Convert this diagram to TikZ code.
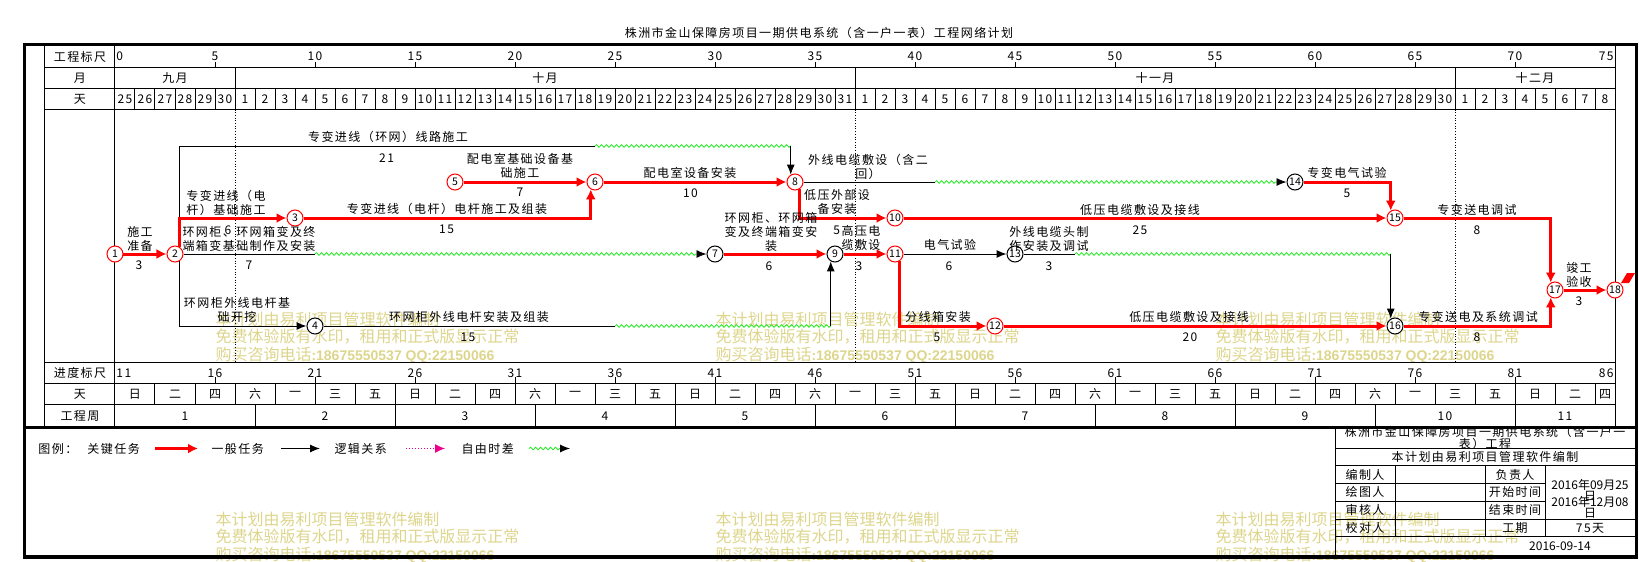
\documentclass[tikz,border=0pt]{standalone}
\usepackage{fontspec}
\setmainfont[LetterSpace=12]{Noto Sans CJK SC}
\newfontfamily\plainfont{Noto Sans CJK SC}
\newfontfamily\wmnum{Liberation Sans}
\usepackage{tikz}
\usetikzlibrary{arrows.meta}
\usetikzlibrary{calc}
\usetikzlibrary{decorations.pathmorphing}
\definecolor{slack}{RGB}{30,235,30}
\definecolor{wmark}{RGB}{221,213,140}
\tikzset{every picture/.style={line width=1pt}}
\tikzset{
  evt/.style={circle, draw, fill=white, minimum size=16pt, inner sep=0pt, font=\plainfont\fontsize{10.5}{10.5}\selectfont},
  critevt/.style={evt, draw=red},
  crit/.style={draw=red, line width=3pt, -{Latex[length=10pt,width=10pt]}},
  norm/.style={draw=black, -{Latex[length=10pt,width=8pt]}},
  slackline/.style={draw=slack, line width=0.8pt, decorate, decoration={snake, amplitude=1.3pt, segment length=5pt}},
  slackarrow/.style={slackline, decoration={post length=10pt}, -{Latex[length=10pt,width=8pt,color=black]}},
  task/.style={align=center, inner sep=0pt},
  lgtext/.style={anchor=west, inner sep=0pt},
  wmk/.style={anchor=north west, inner sep=0pt, align=left, text=wmark, font=\plainfont\fontsize{16}{17.5}\selectfont}
}
\begin{document}
\begin{tikzpicture}[x=20pt,y=-1pt,font=\fontsize{12}{14}\selectfont]
\useasboundingbox (-5.75,0) rectangle (76.2,562);
\foreach \wx/\wy in {5/311,30/311,55/311,5/511,30/511,55/511}
  \node (wm\wx-\wy) [wmk] at (\wx,\wy) {本计划由易利项目管理软件编制\\免费体验版有水印，租用和正式版显示正常\\购买咨询电话{\wmnum\bfseries\fontsize{14}{17.5}\selectfont:18675550537 QQ:22150066}};

\node (ttl) at (35.2,32.5) {株洲市金山保障房项目一期供电系统（含一户一表）工程网络计划};

\draw[line width=3.5pt] (-4.525,44.5) rectangle (76.075,557);
\draw[line width=3pt] (-4.525,427.5) -- (76.075,427.5);
\draw (-3.5,44.5) -- (-3.5,427.5);
\draw (0,44.5) -- (0,427.5);
\draw (75,44.5) -- (75,427.5);
\foreach \yy in {67.5,88.5,109.5,362.5,383.5,404.5}
  \draw (-3.5,\yy) -- (75,\yy);

\node (hs) at (-1.75,57) {工程标尺};
\node (hm) at (-1.75,78) {月};
\node (hd) at (-1.75,99) {天};
\node (fs) at (-1.75,373) {进度标尺};
\node (fd) at (-1.75,394) {天};
\node (fw) at (-1.75,416) {工程周};

\node (s0) [anchor=west, inner sep=1pt] at (0,56.5) {0};
\node (s75) [anchor=east, inner sep=1pt] at (75,56.5) {75};
\foreach \d in {5,10,...,70} {
  \draw (\d,62) -- (\d,67.5);
  \node (s\d) at (\d,56.5) {\d};
}

\node (m9) at (3,78) {九月};
\node (m10) at (21.5,78) {十月};
\node (m11) at (52,78) {十一月};
\node (m12) at (71,78) {十二月};
\foreach \d in {6,37,67}
  \draw (\d,67.5) -- (\d,88.5);

\foreach \i in {1,...,74}
  \draw (\i,88.5) -- (\i,109.5);
\foreach \dd in {25,...,30}
  \node (dS\dd) at (\dd-24.5,99) {\dd};
\foreach \dd in {1,...,31}
  \node (dO\dd) at (\dd+5.5,99) {\dd};
\foreach \dd in {1,...,30}
  \node (dN\dd) at (\dd+36.5,99) {\dd};
\foreach \dd in {1,...,8}
  \node (dD\dd) at (\dd+66.5,99) {\dd};

\foreach \d in {6,37,67}
  \draw[dotted, line width=0.7pt] (\d,109.5) -- (\d,362.5);

\node (p0) [anchor=west, inner sep=1pt] at (0,373) {11};
\node (p75) [anchor=east, inner sep=1pt] at (75,373) {86};
\foreach \d [evaluate=\d as \v using int(\d+11)] in {5,10,...,70} {
  \draw (\d,377) -- (\d,383.5);
  \node (p\d) at (\d,373) {\v};
}

\foreach \k in {1,...,37}
  \draw (2*\k,383.5) -- (2*\k,404.5);
\foreach \w [count=\k from 0] in {日,二,四,六,一,三,五,日,二,四,六,一,三,五,日,二,四,六,一,三,五,日,二,四,六,一,三,五,日,二,四,六,一,三,五,日,二,四}
  \node (wd\k) at ({min(2*\k+1,74.5)},394) {\w};

\foreach \k in {1,...,10}
  \draw (7*\k,404.5) -- (7*\k,427.5);
\foreach \k in {1,...,10}
  \node (wk\k) at (7*\k-3.5,416) {\k};
\node (wk11) at (72.5,416) {11};

\node (e1) [critevt] at (0,254) {1};
\node (e2) [critevt] at (3,254) {2};
\node (e3) [critevt] at (9,218) {3};
\node (e4) [evt] at (10,326) {4};
\node (e5) [critevt] at (17,182) {5};
\node (e6) [critevt] at (24,182) {6};
\node (e7) [evt] at (30,254) {7};
\node (e8) [critevt] at (34,182) {8};
\node (e9) [evt] at (36,254) {9};
\node (e10) [critevt] at (39,218) {10};
\node (e11) [critevt] at (39,254) {11};
\node (e12) [critevt] at (44,326) {12};
\node (e13) [evt] at (45,254) {13};
\node (e14) [evt] at (59,182) {14};
\node (e15) [critevt] at (64,218) {15};
\node (e16) [evt] at (64,326) {16};
\node (e17) [critevt] at (72,290) {17};
\node (e18) [critevt] at (75,290) {18};

\coordinate (f28) at (24,146);
\coordinate (g28) at (e8.120 |- f28);
\coordinate (f27) at (10,254);
\coordinate (f49) at (25,326);
\coordinate (g49) at (e9.-120 |- f49);
\coordinate (f814) at (41,182);
\coordinate (f1316) at (48,254);
\coordinate (g1316) at (e16.120 |- f1316);

\draw (e2.60) |- (f28);
\draw[slackline] (f28) -- (g28);
\draw[norm] (g28) -- (e8.120);
\draw[norm] (e2.-60) |- (e4);
\draw (e2) -- (f27);
\draw[slackarrow] (f27) -- (e7);
\draw (e4) -- (f49);
\draw[slackline] (f49) -- (g49);
\draw[norm] (g49) -- (e9.-120);
\draw (e8) -- (f814);
\draw[slackarrow] (f814) -- (e14);
\draw[norm] (e11) -- (e13);
\draw (e13) -- (f1316);
\draw[slackline] (f1316) -- (g1316);
\draw[norm] (g1316) -- (e16.120);
\draw[crit] (e1) -- (e2);
\draw[crit] (e2.60) |- (e3);
\draw[crit] (e3) -| (e6.-120);
\draw[crit] (e5) -- (e6);
\draw[crit] (e6) -- (e8);
\draw[crit] (e8.-60) |- (e10);
\draw[crit] (e7) -- (e9);
\draw[crit] (e9) -- (e11);
\draw[crit] (e10) -- (e15);
\draw[crit] (e11.-60) |- (e12);
\draw[crit] (e12) -- (e16);
\draw[crit] (e14) -| (e15.120);
\draw[crit] (e15) -| (e17.120);
\draw[crit] (e16) -| (e17.-120);
\draw[crit] (e17) -- (e18);
\fill[red] ($(e18)+(0.3,-7)$) -- ++(0.3,-10) -- ++(0.4,0) -- ++(-0.3,10) -- cycle;

\node (t12) [task] at (1.25,238.7) {施工\\准备};
\node (d12) at (1.2,265.7) {3};
\node (t23) [task] at (5.55,202.5) {专变进线（电\\杆）基础施工};
\node (d23) at (5.65,230) {6};
\node (t27) [task] at (6.7,238.7) {环网柜、环网箱变及终\\端箱变基础制作及安装};
\node (d27) at (6.7,265.7) {7};
\node (t24) [task] at (6.1,310) {环网柜外线电杆基\\础开挖};
\node (t28) at (13.65,137) {专变进线（环网）线路施工};
\node (d28) at (13.58,158) {21};
\node (t36) at (16.6,209.3) {专变进线（电杆）电杆施工及组装};
\node (d36) at (16.58,229.3) {15};
\node (t49) at (17.7,316.7) {环网柜外线电杆安装及组装};
\node (d49) at (17.65,337) {15};
\node (t56) [task] at (20.25,166.3) {配电室基础设备基\\础施工};
\node (d56) at (20.25,192.7) {7};
\node (t68) at (28.75,173.3) {配电室设备安装};
\node (d68) at (28.77,193.3) {10};
\node (t814) [task] at (37.65,166.7) {外线电缆敷设（含二\\回）};
\node (t810) [task] at (36.1,201.7) {低压外部设\\备安装};
\node (d810) at (36.08,230) {5};
\node (t79) [task] at (32.8,231.7) {环网柜、环网箱\\变及终端箱变安\\装};
\node (d79) at (32.7,266) {6};
\node (t911) [task] at (37.3,238) {高压电\\缆敷设};
\node (d911) at (37.2,266) {3};
\node (t1015) at (51.25,210) {低压电缆敷设及接线};
\node (d1015) at (51.25,230) {25};
\node (t1113) at (41.75,245) {电气试验};
\node (d1113) at (41.7,266) {6};
\node (t1112) at (41.15,316.7) {分线箱安装};
\node (d1112) at (41.1,337.7) {5};
\node (t1316) [task] at (46.7,238.5) {外线电缆头制\\作安装及调试};
\node (d1316) at (46.7,266) {3};
\node (t1216) at (53.7,316.7) {低压电缆敷设及接线};
\node (d1216) at (53.75,337.7) {20};
\node (t1415) at (61.6,173.3) {专变电气试验};
\node (d1415) at (61.6,193.3) {5};
\node (t1517) at (68.1,210) {专变送电调试};
\node (d1517) at (68.1,230) {8};
\node (t1617) at (68.15,316.7) {专变送电及系统调试};
\node (d1617) at (68.1,337.7) {8};
\node (t1718) [task] at (73.2,274.5) {竣工\\验收};
\node (d1718) at (73.2,301.7) {3};

\node (lg) [lgtext] at (-3.85,448.5) {图例：};
\node (lk) [lgtext] at (-1.4,448.5) {关键任务};
\coordinate (lka) at (2.0,448.5);
\coordinate (lkb) at (4.15,448.5);
\draw[crit] (lka) -- (lkb);
\node (ln) [lgtext] at (4.8,448.5) {一般任务};
\coordinate (lna) at (8.3,448.5);
\coordinate (lnb) at (10.25,448.5);
\draw[norm] (lna) -- (lnb);
\node (ll) [lgtext] at (10.95,448.5) {逻辑关系};
\coordinate (lla) at (14.55,448.5);
\coordinate (llb) at (16.5,448.5);
\draw[magenta, dotted, -{Latex[length=10pt,width=9pt]}] (lla) -- (llb);
\node (ls) [lgtext] at (17.3,448.5) {自由时差};
\coordinate (lsa) at (20.7,448.5);
\coordinate (lsb) at (22.75,448.5);
\draw[slackarrow] (lsa) -- (lsb);

\draw (61,427.5) -- (61,557);
\draw (61,448.3) -- (76.075,448.3);
\draw (61,465.7) -- (76.075,465.7);
\foreach \yy in {483.3,501}
  \draw (61,\yy) -- (71.5,\yy);
\draw (61,519) -- (76.075,519);
\draw (61,536.7) -- (76.075,536.7);
\foreach \xx in {64,68.5,71.5}
  \draw (\xx,465.7) -- (\xx,536.7);
\node (tb1) [task, font=\fontsize{12}{10}\selectfont] at (68.5,438) {株洲市金山保障房项目一期供电系统（含一户一\\表）工程};
\node (tb2) at (68.5,456.5) {本计划由易利项目管理软件编制};
\foreach \tx/\ty [count=\i] in {编制人/474.5,绘图人/492,审核人/510,校对人/528}
  \node (ta\i) at (62.5,\ty) {\tx};
\foreach \tx/\ty [count=\i] in {负责人/474.5,开始时间/492,结束时间/510,工期/528}
  \node (tc\i) at (70,\ty) {\tx};
\node (tds) [task, font=\plainfont\fontsize{12}{10}\selectfont] at (73.75,490.5) {2016年09月25\\日};
\node (tde) [task, font=\plainfont\fontsize{12}{10}\selectfont] at (73.75,507.5) {2016年12月08\\日};
\node (tdu) at (73.75,528.3) {75天};
\node (tdt) [font=\plainfont\fontsize{12}{14}\selectfont] at (72.25,546.7) {2016-09-14};
\end{tikzpicture}
\end{document}
